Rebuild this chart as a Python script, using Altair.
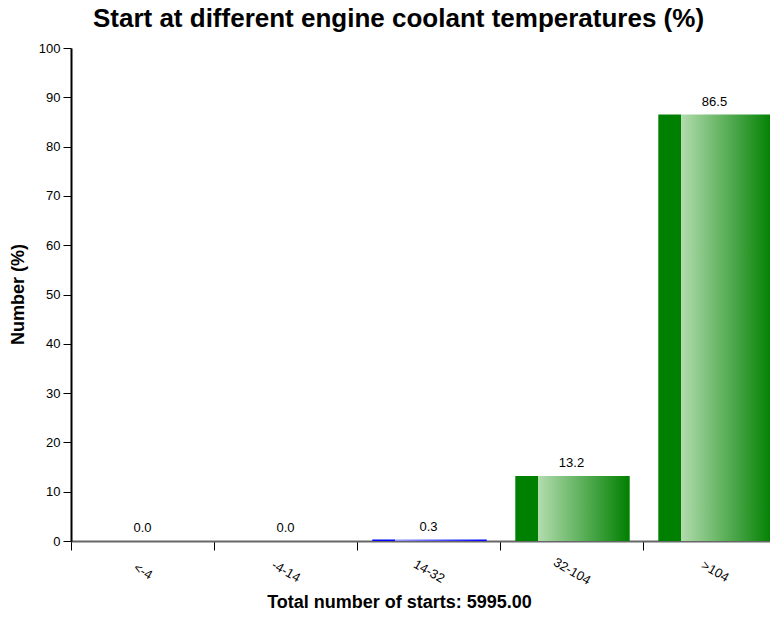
import altair as alt
import pandas as pd

categories = ["<-4", "-4-14", "14-32", "32-104", ">104"]
values = [0.0, 0.0, 0.3, 13.2, 86.5]
groups = ["green", "green", "blue", "green", "green"]
y_ticks = list(range(0, 101, 10))

df = pd.DataFrame({"cat": categories, "value": values, "group": groups})

FONT = "Liberation Sans, Arial, sans-serif"

green_grad = {
    "gradient": "linear", "x1": 0, "x2": 1, "y1": 0, "y2": 0,
    "stops": [
        {"offset": 0, "color": "#008000"},
        {"offset": 0.2, "color": "#008000"},
        {"offset": 0.2, "color": "#b2dcae"},
        {"offset": 1, "color": "#008000"},
    ],
}
blue_grad = {
    "gradient": "linear", "x1": 0, "x2": 1, "y1": 0, "y2": 0,
    "stops": [
        {"offset": 0, "color": "#0000ff"},
        {"offset": 0.2, "color": "#0000ff"},
        {"offset": 0.2, "color": "#9a9aff"},
        {"offset": 1, "color": "#0000ff"},
    ],
}

x = alt.X(
    "cat:N", sort=categories,
    scale=alt.Scale(range=[0, 715], paddingInner=0, paddingOuter=0),
    axis=alt.Axis(
        title="Total number of starts: 5995.00",
        titleFont=FONT, titleFontSize=18, titleFontWeight="bold", titleColor="#000",
        titleX=328, titleY=66, titleBaseline="alphabetic", titleAlign="center",
        labelAngle=30, labelAlign="center", labelBaseline="middle",
        labelPadding=21, labelFont=FONT, labelFontSize=13, labelColor="#000",
        tickSize=9, tickColor="#000", tickBand="extent",
        domainColor="#666", domainWidth=2,
    ),
)

y = alt.Y(
    "value:Q",
    scale=alt.Scale(domain=[0, 100]),
    axis=alt.Axis(
        title="Number (%)", values=y_ticks,
        titleFont=FONT, titleFontSize=18, titleFontWeight="bold", titleColor="#000",
        titleX=-53, titleY=246, titleAngle=-90, titleAlign="center", titleBaseline="middle",
        labelFont=FONT, labelFontSize=13, labelColor="#000", labelPadding=3,
        tickSize=8, tickColor="#000", domainColor="#000", domainWidth=2, grid=False,
    ),
)

bars = alt.Chart(df).mark_bar(width=alt.RelativeBandSize(0.8), xOffset=1).encode(
    x=x, y=y,
    fill=alt.condition(alt.datum.group == "blue", alt.value(blue_grad), alt.value(green_grad)),
)

labels = alt.Chart(df).mark_text(
    baseline="alphabetic", dy=-9, font=FONT, fontSize=13, color="#000"
).encode(
    x=alt.X("cat:N", sort=categories),
    y="value:Q",
    text=alt.Text("value:Q", format=".1f"),
)

chart = alt.layer(bars, labels).properties(
    width=699, height=493,
    title=alt.TitleParams(
        "Start at different engine coolant temperatures (%)",
        font=FONT, fontSize=26, fontWeight="bold", color="#000",
        anchor="middle", baseline="alphabetic", offset=9, dy=20, dx=-22,
    ),
    autosize=alt.AutoSizeParams(type="none"),
    padding={"left": 63, "top": 40, "right": 0, "bottom": 70},
).configure_view(stroke=None)

chart.save("out.html", embed_options={"renderer": "svg", "actions": False})
